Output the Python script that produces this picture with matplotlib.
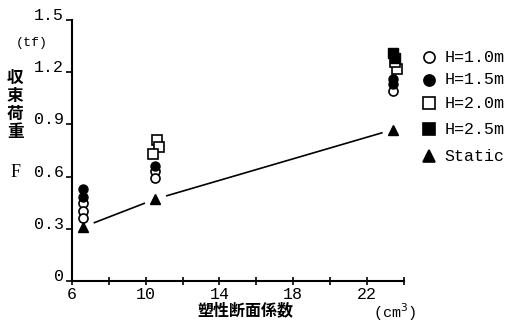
import matplotlib
matplotlib.use("Agg")
import matplotlib.pyplot as plt
import numpy as np

# measured collapse loads F (tf) vs plastic section modulus (cm3)
x_h10 = [6.6, 6.6, 6.6, 10.5, 10.5, 23.4]
f_h10 = [0.45, 0.40, 0.36, 0.63, 0.59, 1.09]
x_h15 = [6.6, 6.6, 10.5, 23.4, 23.4]
f_h15 = [0.53, 0.48, 0.66, 1.16, 1.13]
x_h20 = [10.6, 10.7, 10.4, 23.6, 23.5]
f_h20 = [0.81, 0.77, 0.73, 1.22, 1.26]
x_h25 = [23.4, 23.5]
f_h25 = [1.31, 1.28]
x_static = [6.6, 10.5, 23.4]
f_static = [0.31, 0.47, 0.87]

x_ticks = [6, 10, 14, 18, 22]
y_ticks = [0, 0.3, 0.6, 0.9, 1.2, 1.5]
y_ticklabels = ["0", "0.3", "0.6", "0.9", "1.2", "1.5"]
labels = ["H=1.0m", "H=1.5m", "H=2.0m", "H=2.5m", "Static"]

mono = "Liberation Mono"
cjk = ["Noto Sans CJK JP", "DejaVu Sans"]

fig = plt.figure(figsize=(5.1, 3.23), dpi=100)
ax = fig.add_axes([0.141, 0.130, 0.651, 0.808])

ms = 6.5
ax.plot(x_static, f_static, color="black", lw=1.2, zorder=1)
# white halo so the line stops short of each triangle
ax.plot(x_static, f_static, "o", color="white", ms=15, zorder=1.5)
ax.plot(x_h10, f_h10, "o", mfc="white", mec="black", mew=1.2, ms=ms, ls="none", zorder=3)
ax.plot(x_h15, f_h15, "o", mfc="black", mec="black", ms=ms, ls="none", zorder=3)
ax.plot(x_h20, f_h20, "s", mfc="white", mec="black", mew=1.2, ms=ms, ls="none", zorder=3)
ax.plot(x_h25, f_h25, "s", mfc="black", mec="black", ms=ms, ls="none", zorder=3)
ax.plot(x_static, f_static, "^", color="black", ms=ms + 1, ls="none", zorder=3)

# legend entries drawn by hand on the right
leg_marks = [("o", "white"), ("o", "black"), ("s", "white"), ("s", "black"), ("^", "black")]
leg_y = [0.823, 0.753, 0.681, 0.600, 0.517]
for (m, fc), lab, yy in zip(leg_marks, labels, leg_y):
    fig.lines.append(plt.Line2D([0.841], [yy], marker=m, mfc=fc, mec="black", mew=1.2,
                                ms=8, ls="none", transform=fig.transFigure))
    fig.text(0.872, yy, lab, fontfamily=mono, fontsize=12, va="center", ha="left")

ax.set_xlim(6, 24)
ax.set_ylim(0, 1.5)
ax.set_xticks(np.arange(6, 25, 2), minor=True)
ax.set_xticks(x_ticks)
ax.set_yticks(y_ticks)
ax.set_yticklabels(y_ticklabels)
for s in ["top", "right"]:
    ax.spines[s].set_visible(False)
for s in ["left", "bottom"]:
    ax.spines[s].set_linewidth(1.5)
ax.tick_params(axis="x", which="both", direction="inout", length=6, width=1.2, pad=1)
ax.tick_params(axis="y", direction="out", length=4, width=1.2, pad=2)
for t in ax.get_xticklabels() + ax.get_yticklabels():
    t.set_fontfamily(mono)
    t.set_fontsize(12)
for t in ax.get_yticklabels():
    t.set_va("baseline")

fig.text(0.030, 0.867, "(tf)", fontfamily=mono, fontsize=9.5, va="center")
fig.text(0.030, 0.676, "収\n束\n荷\n重", fontfamily=cjk, fontweight="bold", fontsize=12,
         va="center", ha="center", linespacing=1.0)
fig.text(0.030, 0.465, "F", fontfamily="Liberation Serif", fontsize=13, va="center", ha="center")
fig.text(0.482, 0.040, "塑性断面係数", fontfamily=cjk, fontweight="bold", fontsize=11.5,
         va="center", ha="center")
fig.text(0.732, 0.034, "(cm$^3$)", fontfamily=mono, fontsize=11, va="center", ha="left")

fig.savefig("out.png", dpi=100)
